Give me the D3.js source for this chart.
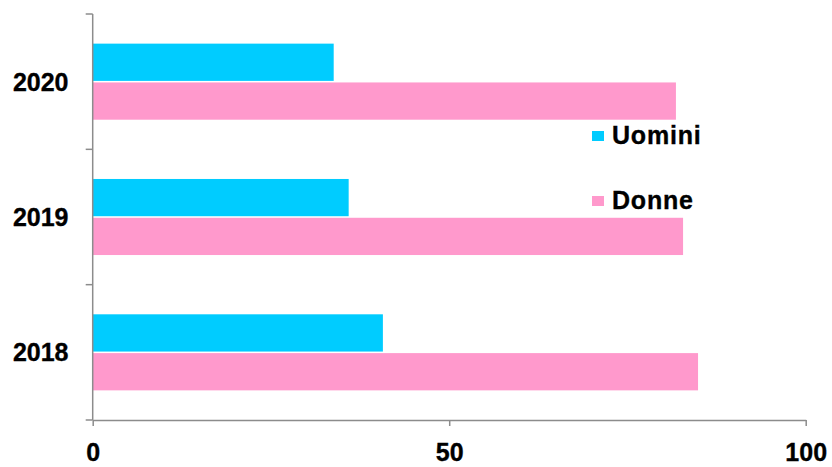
<!DOCTYPE html>
<html>
<head>
<meta charset="utf-8">
<script src="https://cdn.jsdelivr.net/npm/d3@7/dist/d3.min.js"></script>
<style>
  html, body { margin: 0; padding: 0; background: #fff; }
  svg { display: block; }
  text { font-family: "Liberation Sans", Arial, sans-serif; font-weight: bold; fill: #000; stroke: #000; stroke-width: 0.35px; }
</style>
</head>
<body>
<script>
// Years, top to bottom
const years = ["2020", "2019", "2018"];
// Series
const seriesNames = ["Uomini", "Donne"];
const uomini = [33.8, 35.9, 40.7];
const donne = [81.8, 82.8, 84.9];
const colors = ["#00CCFF", "#FF99CC"];
const xTicks = [0, 50, 100];

const W = 832, H = 467;
const plotLeft = 92.7, plotRight = 805.7, plotTop = 14, plotBottom = 420;
const axisColor = "#8c8c8c";
const fontSize = 25;

const svg = d3.select("body").append("svg").attr("width", W).attr("height", H);

const x = d3.scaleLinear().domain([0, 100]).range([plotLeft, plotRight]);
const y = d3.scaleBand().domain(years).range([plotTop, plotBottom]).paddingInner(0.438).paddingOuter(0.219);
const yInner = d3.scaleBand().domain(seriesNames).range([0, y.bandwidth()]).paddingInner(0.04);

const rows = years.map((yr, i) => ({ year: yr, values: [uomini[i], donne[i]] }));

// Bars
const g = svg.append("g");
rows.forEach(r => {
  r.values.forEach((v, j) => {
    g.append("rect")
      .attr("x", x(0))
      .attr("y", y(r.year) + yInner(seriesNames[j]))
      .attr("width", x(v) - x(0))
      .attr("height", yInner.bandwidth())
      .attr("fill", colors[j]);
  });
});

// X axis
const xAxis = svg.append("g")
  .attr("transform", `translate(0,${plotBottom})`)
  .call(d3.axisBottom(x).tickValues(xTicks).tickSize(6).tickSizeOuter(0));
xAxis.select(".domain").attr("stroke", axisColor).attr("stroke-width", 1.5);
xAxis.selectAll(".tick line").attr("stroke", axisColor).attr("stroke-width", 1.5);
xAxis.selectAll(".tick text")
  .attr("y", 41).attr("dy", 0)
  .attr("font-size", fontSize).attr("fill", "#000")
  .style("font-family", '"Liberation Sans", Arial, sans-serif').style("font-weight", "bold");

// Y axis: line with ticks on category boundaries, labels in band centres
const yAxis = svg.append("g");
yAxis.append("line")
  .attr("x1", plotLeft).attr("x2", plotLeft)
  .attr("y1", plotTop).attr("y2", plotBottom)
  .attr("stroke", axisColor).attr("stroke-width", 1.5);
const bounds = years.map(d => y(d) - y.step() * y.paddingInner() / 2);
bounds.push(plotBottom);
bounds[0] = plotTop;
yAxis.selectAll("line.tick").data(bounds).join("line")
  .attr("class", "tick")
  .attr("x1", plotLeft - 7).attr("x2", plotLeft)
  .attr("y1", d => d).attr("y2", d => d)
  .attr("stroke", axisColor).attr("stroke-width", 1.5);
yAxis.selectAll("text").data(years).join("text")
  .attr("x", 68.5)
  .attr("y", d => y(d) + y.bandwidth() / 2)
  .attr("dy", "0.36em")
  .attr("text-anchor", "end")
  .attr("font-size", fontSize)
  .text(d => d);

// Legend
const legend = svg.append("g");
const legendY = [136, 201];
seriesNames.forEach((name, j) => {
  legend.append("rect")
    .attr("x", 592).attr("y", legendY[j] - 5)
    .attr("width", 12).attr("height", 10)
    .attr("fill", colors[j]);
  legend.append("text")
    .attr("x", 612).attr("y", legendY[j])
    .attr("dy", "0.32em")
    .attr("font-size", fontSize)
    .attr("letter-spacing", 0.8)
    .text(name);
});
</script>
</body>
</html>
